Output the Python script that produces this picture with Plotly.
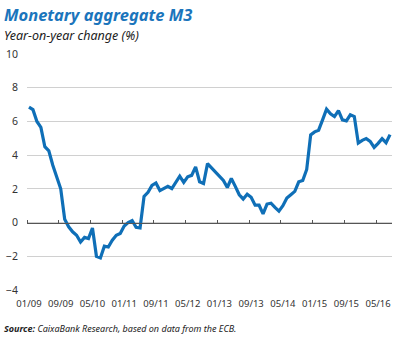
import plotly.graph_objects as go

months = [f"{m:02d}/{y:02d}" for y in range(9, 17) for m in range(1, 13)][:92]

m3_growth = [
    6.85, 6.7, 6.0, 5.65, 4.5, 4.26, 3.4, 2.75, 2.0, 0.2,
    -0.25, -0.55, -0.75, -1.15, -0.88, -0.95, -0.32, -2.0, -2.1, -1.4,
    -1.45, -1.05, -0.75, -0.65, -0.2, 0.0, 0.12, -0.28, -0.32, 1.55,
    1.8, 2.2, 2.35, 1.9, 2.05, 2.15, 2.02, 2.35, 2.75, 2.38,
    2.72, 2.8, 3.3, 2.42, 2.32, 3.5, 3.25, 2.98, 2.75, 2.5,
    2.08, 2.62, 2.15, 1.65, 1.4, 1.68, 1.5, 1.03, 1.03, 0.52,
    1.1, 1.15, 0.9, 0.68, 1.0, 1.45, 1.65, 1.85, 2.42, 2.5,
    3.15, 5.2, 5.38, 5.48, 6.09, 6.73, 6.45, 6.29, 6.64, 6.09,
    6.03, 6.39, 6.29, 4.72, 4.88, 4.98, 4.82, 4.46, 4.7, 4.98,
    4.74, 5.22,
]

tick_labels = ["01/09", "09/09", "05/10", "01/11", "09/11", "05/12",
               "01/13", "09/13", "05/14", "01/15", "09/15", "05/16"]
y_ticks = [-4, -2, 0, 2, 4, 6, 8, 10]
y_min, y_max = -4, 10

FONT = "Noto Sans"
BLUE = "#0f6fb7"

n = len(months)
idx = list(range(n))
# boundary ticks between categories (Excel-style category axis)
boundary_ticks = [months.index(t) - 0.5 for t in tick_labels]

fig = go.Figure()
fig.add_trace(go.Scatter(
    x=months, y=m3_growth, mode="lines",
    line=dict(color=BLUE, width=3.2),
    hoverinfo="x+y", showlegend=False,
))
# invisible trace to drive the zero-line tick axis
fig.add_trace(go.Scatter(
    x=idx, y=m3_growth, mode="lines", xaxis="x2",
    line=dict(color="rgba(0,0,0,0)", width=0),
    hoverinfo="skip", showlegend=False,
))

fig.update_layout(
    width=398, height=338,
    margin=dict(l=24, r=6, t=54, b=48),
    paper_bgcolor="white", plot_bgcolor="white",
    font=dict(family=FONT, size=11, color="#333333"),
    xaxis=dict(
        type="category",
        tickmode="array", tickvals=tick_labels, ticktext=tick_labels,
        tickangle=0,
        showgrid=False, showline=False, zeroline=False,
        ticks="", tickfont=dict(size=9.5, color="#333333"),
        range=[-0.5, n - 0.5],
        ticklabelstandoff=6,
    ),
    xaxis2=dict(
        type="linear", overlaying="x", anchor="free",
        position=(0 - y_min) / (y_max - y_min), side="top",
        tickmode="array", tickvals=boundary_ticks,
        ticks="outside", ticklen=3,
        tickcolor="#555555", tickwidth=1,
        showticklabels=False, showgrid=False, zeroline=False,
        showline=True, linecolor="#555555", linewidth=1,
        range=[-0.5, n - 0.5],
    ),
    yaxis=dict(
        range=[y_min, y_max], tickvals=y_ticks,
        showgrid=True, gridcolor="#d0d0d0", gridwidth=1,
        zeroline=False, showline=False, ticks="",
        tickfont=dict(size=10.5, color="#333333"),
        ticklabelstandoff=8,
    ),
    annotations=[
        dict(text="<b><i>Monetary aggregate M3</i></b>", x=0, y=1,
             xref="paper", yref="paper", xanchor="left", yanchor="top",
             xshift=-25, yshift=53, showarrow=False,
             font=dict(family=FONT, size=16.5, color="#1b75bc")),
        dict(text="<i>Year-on-year change (%)</i>", x=0, y=1,
             xref="paper", yref="paper", xanchor="left", yanchor="top",
             xshift=-25, yshift=29, showarrow=False,
             font=dict(family=FONT, size=12.5, color="#222222")),
        dict(text="<b><i>Source:</i></b><i> CaixaBank Research, based on data from the ECB.</i>",
             x=0, y=0, xref="paper", yref="paper", xanchor="left", yanchor="top",
             xshift=-25, yshift=-30, showarrow=False,
             font=dict(family=FONT, size=9, color="#222222")),
    ],
)

fig.write_html("out.html")
